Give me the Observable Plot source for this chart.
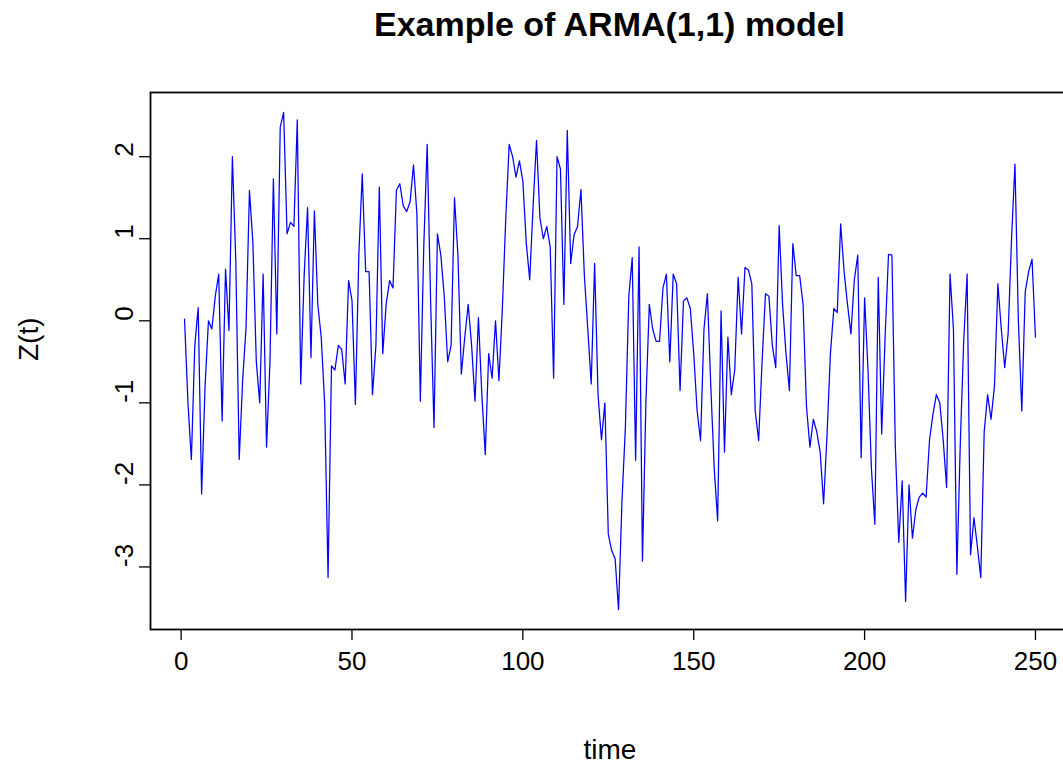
<!DOCTYPE html>
<html>
<head>
<meta charset="utf-8">
<script src="https://cdn.jsdelivr.net/npm/d3@7"></script>
<script src="https://cdn.jsdelivr.net/npm/@observablehq/plot@0.6"></script>
<style>
  html, body { margin: 0; padding: 0; background: #fff; overflow: hidden; }
  #head { position: relative; width: 1063px; height: 60px; }
  #title { position: absolute; left: 150px; width: 919px; top: 7px; text-align: center;
           font: bold 34px/34px "Liberation Sans", Arial, sans-serif; color: #000; }
  svg { max-width: none !important; display: block; }
</style>
</head>
<body>
<div id="head"><div id="title">Example of ARMA(1,1) model</div></div>
<div id="chart"></div>
<script>
// Simulated ARMA(1,1) series, one value per time step 1..250
const z = [
  0.02, -1.0, -1.69, -0.3, 0.16, -2.11, -0.8, 0.0, -0.1, 0.3,
  0.57, -1.22, 0.63, -0.12, 2.0, 0.73, -1.69, -0.73, -0.08, 1.59,
  0.95, -0.5, -1.0, 0.57, -1.54, -0.5, 1.73, -0.16, 2.36, 2.54,
  1.06, 1.2, 1.15, 2.45, -0.77, 0.55, 1.38, -0.45, 1.34, 0.2,
  -0.2, -1.0, -3.13, -0.55, -0.6, -0.3, -0.35, -0.77, 0.49, 0.25,
  -1.02, 0.8, 1.79, 0.6, 0.6, -0.9, -0.3, 1.63, -0.4, 0.2,
  0.49, 0.4, 1.59, 1.67, 1.4, 1.33, 1.45, 1.9, 1.3, -0.98,
  0.9, 2.15, 0.25, -1.3, 1.06, 0.8, 0.3, -0.5, -0.3, 1.5,
  0.8, -0.65, -0.2, 0.2, -0.3, -0.98, 0.04, -0.9, -1.63, -0.4,
  -0.7, 0.0, -0.73, 0.15, 1.25, 2.15, 2.0, 1.75, 1.95, 1.7,
  0.95, 0.5, 1.4, 2.2, 1.25, 1.0, 1.15, 0.9, -0.7, 2.0,
  1.85, 0.2, 2.32, 0.7, 1.05, 1.15, 1.6, 0.55, -0.1, -0.77,
  0.7, -0.9, -1.45, -1.0, -2.6, -2.8, -2.9, -3.52, -2.2, -1.3,
  0.3, 0.77, -1.7, 0.9, -2.93, -1.0, 0.2, -0.1, -0.25, -0.25,
  0.4, 0.57, -0.5, 0.57, 0.45, -0.85, 0.24, 0.28, 0.15, -0.4,
  -1.1, -1.46, -0.1, 0.33, -0.8, -1.8, -2.44, 0.12, -1.6, -0.2,
  -0.9, -0.6, 0.53, -0.16, 0.65, 0.62, 0.45, -1.1, -1.46, -0.5,
  0.33, 0.3, -0.3, -0.57, 1.16, 0.2, -0.4, -0.85, 0.94, 0.55,
  0.55, 0.2, -1.05, -1.54, -1.2, -1.35, -1.6, -2.23, -1.4, -0.4,
  0.15, 0.1, 1.18, 0.6, 0.2, -0.16, 0.5, 0.8, -1.67, 0.28,
  -0.6, -1.8, -2.48, 0.53, -1.38, -0.2, 0.81, 0.8, -1.54, -2.7,
  -1.95, -3.42, -2.0, -2.65, -2.3, -2.15, -2.1, -2.15, -1.45, -1.14,
  -0.9, -1.0, -1.45, -2.03, 0.57, -0.1, -3.09, -1.5, -0.25, 0.57,
  -2.85, -2.4, -2.75, -3.13, -1.35, -0.9, -1.2, -0.8, 0.45, -0.1,
  -0.57, -0.16, 1.0, 1.91, 0.0, -1.1, 0.35, 0.6, 0.75, -0.2
];
const time = z.map((_, i) => i + 1);

const xTicks = [0, 50, 100, 150, 200, 250];
const yTicks = [-3, -2, -1, 0, 1, 2];
const yTickLabels = ["-3", "-2", "-1", "0", "1", "2"];

const series = time.map((t, i) => ({t, z: z[i]}));

// Axis limits padded by 4% of the data range on each side
const pad = ([a, b]) => [a - (b - a) * 0.04, b + (b - a) * 0.04];

const font = "'Liberation Sans', Arial, sans-serif";

const chart = Plot.plot({
  width: 1063,
  height: 706,
  marginLeft: 150,
  marginRight: -6,
  marginTop: 32,
  marginBottom: 137,
  x: {domain: pad(d3.extent(time))},
  y: {domain: pad(d3.extent(z))},
  style: {fontFamily: font, background: "#fff", color: "#000", overflow: "hidden"},
  marks: [
    Plot.line(series, {x: "t", y: "z", stroke: "#0000ff", strokeWidth: 1.25}),
    Plot.frame({stroke: "#000", strokeWidth: 1.8}),
    Plot.axisX(xTicks, {
      tickSize: 11, tickPadding: 11, fontSize: 26, stroke: "#000", strokeWidth: 1.3,
      fill: "#000", tickFormat: d => String(d), label: null
    }),
    Plot.axisY(yTicks, {
      tickSize: 11, strokeWidth: 1.3, stroke: "#000", text: null, label: null
    }),
    Plot.text(yTicks, {
      y: d => d, text: (d, i) => yTickLabels[i], frameAnchor: "left", dx: -26,
      rotate: -90, fontSize: 26, fill: "#000"
    }),
    Plot.text(["time"], {
      frameAnchor: "bottom", dy: 129, text: d => d, fontSize: 28, fill: "#000"
    }),
    Plot.text(["Z(t)"], {
      frameAnchor: "left", dx: -121, text: d => d, rotate: -90, fontSize: 28, fill: "#000"
    })
  ]
});

document.getElementById("chart").appendChild(chart);
</script>
</body>
</html>
